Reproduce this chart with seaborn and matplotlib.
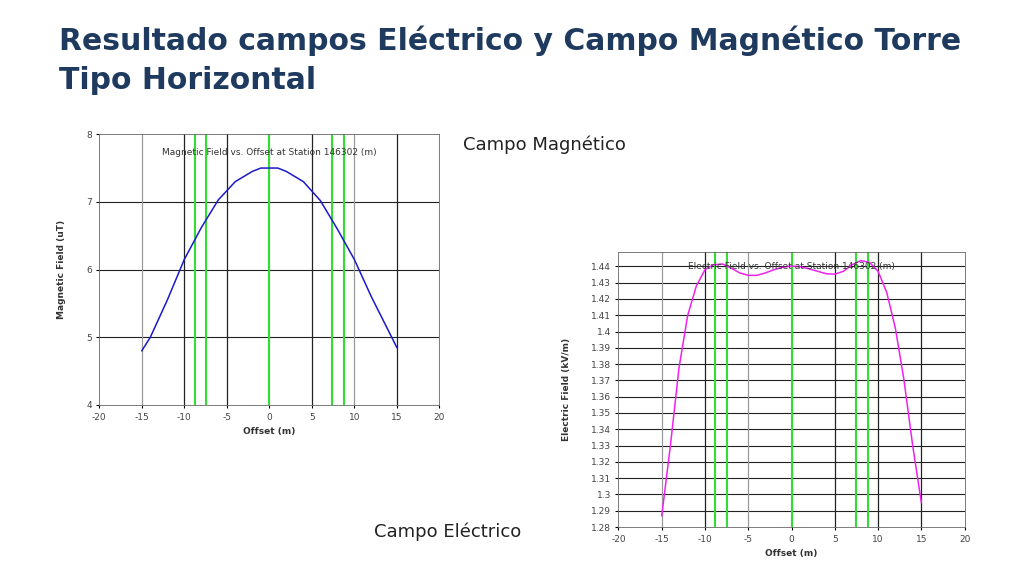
import matplotlib
matplotlib.use("Agg")
import matplotlib.pyplot as plt
import seaborn as sns
import numpy as np

plt.rcParams["axes.unicode_minus"] = False

mag_x = [-15, -14, -12, -10, -8, -6, -4, -2, -1, 0, 1, 2, 4, 6, 8, 10, 12, 14, 15]
mag_y = [4.8, 5.0, 5.55, 6.15, 6.62, 7.03, 7.3, 7.45, 7.5, 7.5, 7.5, 7.45, 7.3, 7.02, 6.6, 6.15, 5.6, 5.1, 4.85]
ele_x = [-15, -14, -13, -12, -11, -10, -9, -8, -7, -6, -5, -4, -3, -2, -1, 0, 1, 2, 3, 4, 5, 6, 7, 8, 9, 10, 11, 12, 13, 14, 15]
ele_y = [1.287, 1.33, 1.378, 1.41, 1.428, 1.438, 1.441, 1.4415, 1.439, 1.436, 1.4345, 1.4345, 1.436, 1.438, 1.4395, 1.4402, 1.4398, 1.4385, 1.437, 1.4355, 1.4352, 1.437, 1.441, 1.4435, 1.4425, 1.437, 1.424, 1.402, 1.37, 1.33, 1.295]
green_x = [-8.8, -7.5, 0, 7.4, 8.8]
grid_x = [-15, -10, -5, 0, 5, 10, 15]
mag_grid_col = ["#999999", "#222222", "#222222", "#999999", "#222222", "#999999", "#222222"]
ele_grid_col = ["#999999", "#222222", "#999999", "#999999", "#222222", "#222222", "#222222"]

fig = plt.figure(figsize=(10.24, 5.76), dpi=100)
fig.text(0.058, 0.93, "Resultado campos Eléctrico y Campo Magnético Torre", fontsize=21.5,
         fontweight="bold", color="#1F3A5F", va="center")
fig.text(0.058, 0.86, "Tipo Horizontal", fontsize=21.5, fontweight="bold", color="#1F3A5F", va="center")
fig.text(0.452, 0.74, "Campo Magnético", fontsize=13, color="#222222")
fig.text(0.365, 0.068, "Campo Eléctrico", fontsize=13, color="#222222")

def style(ax, ylabel, title, cols, ty):
    ax.set_xlim(-20, 20)
    ax.set_xticks(range(-20, 21, 5))
    ax.tick_params(labelsize=6.5, length=2, labelcolor="#444444")
    ax.set_xlabel("Offset (m)", fontsize=6.5, fontweight="bold", color="#333333")
    ax.set_ylabel(ylabel, fontsize=6.5, fontweight="bold", color="#333333", labelpad=14)
    for g, c in zip(grid_x, cols):
        ax.axvline(g, color=c, lw=0.9, zorder=1)
    for g in green_x:
        ax.axvline(g, color="#33dd33", lw=1.5, zorder=2)
    for s in ax.spines.values():
        s.set_color("#666666"); s.set_linewidth(0.6)
    ax.text(0.5, ty, title, transform=ax.transAxes, ha="center", va="center",
            fontsize=6.5, color="#333333", zorder=5)

ax1 = fig.add_axes([0.097, 0.297, 0.332, 0.47])
sns.lineplot(x=mag_x, y=mag_y, ax=ax1, color="#1a1acc", lw=1.1, zorder=3)
ax1.set_ylim(4, 8)
ax1.set_yticks([4, 5, 6, 7, 8])
for v in [5, 6, 7]:
    ax1.axhline(v, color="#222222", lw=0.8, zorder=1)
style(ax1, "Magnetic Field (uT)", "Magnetic Field vs. Offset at Station 146302 (m)", mag_grid_col, 0.933)

ax2 = fig.add_axes([0.604, 0.085, 0.338, 0.478])
sns.lineplot(x=ele_x, y=ele_y, ax=ax2, color="#ee22ee", lw=1.1, zorder=3)
ax2.set_ylim(1.28, 1.449)
yt = np.round(np.arange(1.28, 1.4401, 0.01), 2)
ax2.set_yticks(yt)
ax2.set_yticklabels([f"{v:g}" for v in yt])
for v in yt[1:]:
    ax2.axhline(v, color="#222222", lw=0.8, zorder=1)
style(ax2, "Electric Field (kV/m)", "Electric Field vs. Offset at Station 146302 (m)", ele_grid_col, 0.945)

fig.savefig("out.png", dpi=100)
